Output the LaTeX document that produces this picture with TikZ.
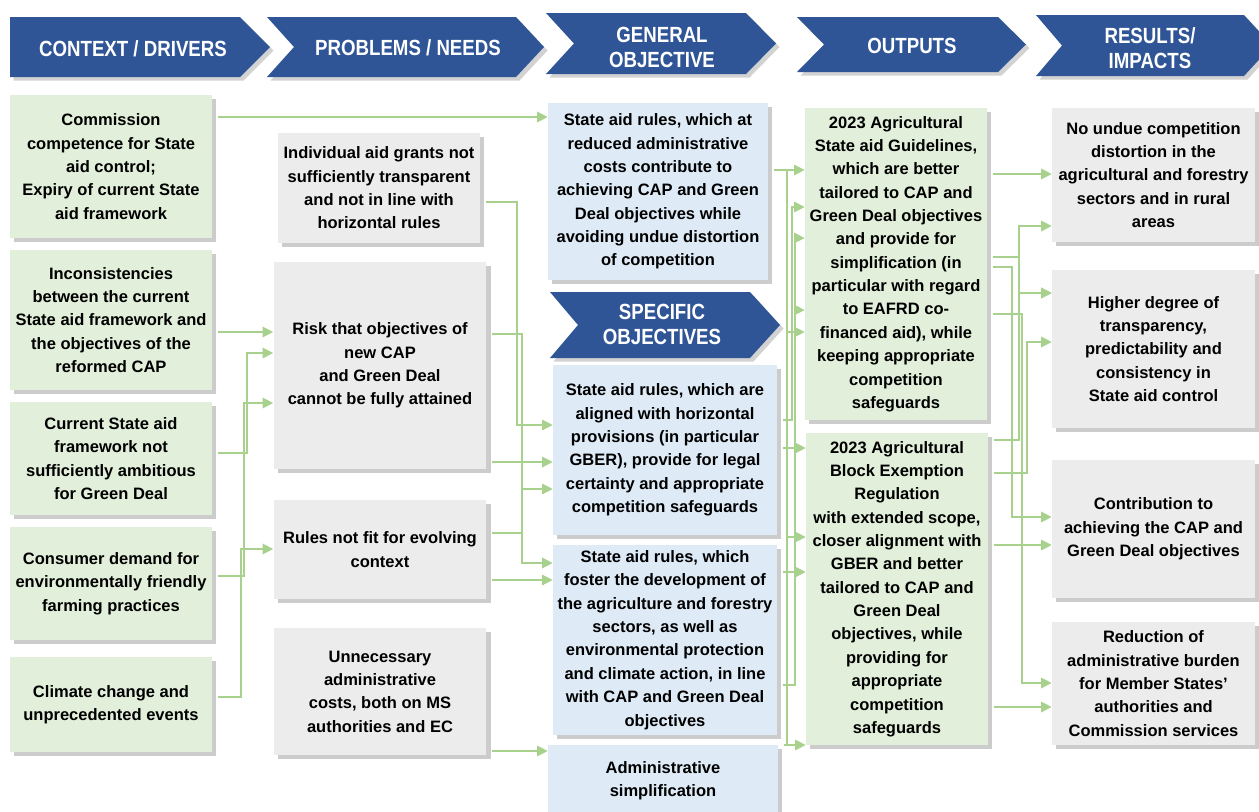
\documentclass[tikz,border=0pt]{standalone}
\usepackage{fontspec}
\setmainfont{Liberation Sans}
\newfontfamily\hdrfont{Liberation Sans}[FakeStretch=0.85]
\usetikzlibrary{shadows, arrows.meta}

\definecolor{hdrblue}{RGB}{47,85,151}
\definecolor{ctxgreen}{RGB}{226,239,218}
\definecolor{probgrey}{RGB}{236,236,236}
\definecolor{objblue}{RGB}{222,235,247}
\definecolor{linkgreen}{RGB}{169,209,142}

\begin{document}
\begin{tikzpicture}[x=0.02cm, y=-0.02cm,
  hdr/.style={fill=hdrblue, drop shadow={shadow xshift=2pt, shadow yshift=-2pt, opacity=0.35}},
  hdrtxt/.style={text=white, align=center, inner sep=0pt, font=\hdrfont\bfseries\fontsize{12.5}{14.2}\selectfont},
  box/.style={align=center, inner sep=2pt, font=\bfseries\fontsize{9.4}{13.3}\selectfont,
    drop shadow={shadow xshift=2.5pt, shadow yshift=-2.5pt, opacity=0.4}},
  ctx/.style={box, fill=ctxgreen, minimum width=4.04cm},
  prob/.style={box, fill=probgrey, minimum width=4.26cm},
  obj/.style={box, fill=objblue, minimum width=4.48cm},
  outp/.style={box, fill=ctxgreen, minimum width=3.64cm},
  res/.style={box, fill=probgrey, minimum width=4.06cm},
  link/.style={draw=linkgreen, line width=0.8pt, shorten <=3pt, -{Triangle[length=6pt,width=6pt]}}]
\fill[white] (0,0) rectangle (1259,812);
\useasboundingbox (0,0) rectangle (1259,812);

% header chevrons
\fill[hdr] (10,17) -- (240,17) -- (270,47) -- (240,77) -- (10,77) -- cycle;
\fill[hdr] (267,17) -- (516,17) -- (544,47) -- (516,77) -- (267,77) -- (294,47) -- cycle;
\fill[hdr] (546,13) -- (746,13) -- (776,43.5) -- (746,74) -- (546,74) -- (574,43.5) -- cycle;
\fill[hdr] (797,17) -- (998,17) -- (1026,44.5) -- (998,72) -- (797,72) -- (824,44.5) -- cycle;
\fill[hdr] (1036,15) -- (1244,15) -- (1272,45.5) -- (1244,76) -- (1036,76) -- (1062,45.5) -- cycle;
\fill[hdr] (550,292) -- (750,292) -- (780,325) -- (750,358) -- (550,358) -- (578,325) -- cycle;
\node[hdrtxt] (hctx) at (133,49) {CONTEXT / DRIVERS};
\node[hdrtxt] (hprob) at (408,48) {PROBLEMS / NEEDS};
\node[hdrtxt] (hgen) at (662,47.5) {GENERAL\\OBJECTIVE};
\node[hdrtxt] (hout) at (912,46) {OUTPUTS};
\node[hdrtxt] (hres) at (1150,48) {RESULTS/\\IMPACTS};
\node[hdrtxt] (hspec) at (662,324) {SPECIFIC\\OBJECTIVES};

% context / drivers
\node[ctx, minimum height=2.86cm] (C1) at (111,166.5) {Commission\\competence for State\\aid control;\\Expiry of current State\\aid framework};
\node[ctx, minimum height=2.8cm] (C2) at (111,320) {Inconsistencies\\between the current\\State aid framework and\\the objectives of the\\reformed CAP};
\node[ctx, minimum height=2.26cm] (C3) at (111,458.5) {Current State aid\\framework not\\sufficiently ambitious\\for Green Deal};
\node[ctx, minimum height=2.26cm] (C4) at (111,583.5) {Consumer demand for\\environmentally friendly\\farming practices};
\node[ctx, minimum height=1.9cm] (C5) at (111,704.5) {Climate change and\\unprecedented events};

% problems / needs
\node[prob, minimum width=4.04cm, minimum height=2.2cm] (P1) at (379,188) {Individual aid grants not\\sufficiently transparent\\and not in line with\\horizontal rules};
\node[prob, minimum height=4.14cm] (P2) at (380,365.5) {Risk that objectives of\\new CAP\\and Green Deal\\cannot be fully attained};
\node[prob, minimum height=1.98cm] (P3) at (380,549.5) {Rules not fit for evolving\\context};
\node[prob, minimum height=2.54cm] (P4) at (380,691.5) {Unnecessary\\administrative\\costs, both on MS\\authorities and EC};

% general and specific objectives
\node[obj, minimum width=4.4cm, minimum height=3.54cm] (G1) at (658,191.5) {State aid rules, which at\\reduced administrative\\costs contribute to\\achieving CAP and Green\\Deal objectives while\\avoiding undue distortion\\of competition};
\node[obj, minimum height=3.4cm] (S1) at (665,450) {State aid rules, which are\\aligned with horizontal\\provisions (in particular\\GBER), provide for legal\\certainty and appropriate\\competition safeguards};
\node[obj, minimum height=3.8cm] (S2) at (665,640) {State aid rules, which\\foster the development of\\the agriculture and forestry\\sectors, as well as\\environmental protection\\and climate action, in line\\with CAP and Green Deal\\objectives};
\node[obj, minimum width=4.6cm, minimum height=1.42cm] (S3) at (663,780.5) {Administrative\\simplification};

% outputs
\node[outp, minimum height=6.24cm] (O1) at (896,264) {2023 Agricultural\\State aid Guidelines,\\which are better\\tailored to CAP and\\Green Deal objectives\\and provide for\\simplification (in\\particular with regard\\to EAFRD co-\\financed aid), while\\keeping appropriate\\competition\\safeguards};
\node[outp, minimum height=6.24cm] (O2) at (897,589) {2023 Agricultural\\Block Exemption\\Regulation\\with extended scope,\\closer alignment with\\GBER and better\\tailored to CAP and\\Green Deal\\objectives, while\\providing for\\appropriate\\competition\\safeguards};

% results / impacts
\node[res, minimum height=2.68cm] (R1) at (1153.5,175) {No undue competition\\distortion in the\\agricultural and forestry\\sectors and in rural\\areas};
\node[res, minimum height=3.16cm] (R2) at (1153.5,349) {Higher degree of\\transparency,\\predictability and\\consistency in\\State aid control};
\node[res, minimum height=2.76cm] (R3) at (1153.5,529) {Contribution to\\achieving the CAP and\\Green Deal objectives};
\node[res, minimum height=2.46cm] (R4) at (1153.5,683.5) {Reduction of\\administrative burden\\for Member States'\\authorities and\\Commission services};

% links drivers -> problems
\draw[link] (C1.east |- 0,117) -- (G1.west |- 0,117);
\draw[link] (C2.east |- 0,332) -- (P2.west |- 0,332);
\draw[link] (C3.east |- 0,453) -| (247,353) -- (P2.west |- 0,353);
\draw[link] (C4.east |- 0,576) -| (244,403) -- (P2.west |- 0,403);
\draw[link] (C5.east |- 0,697) -| (241,549) -- (P3.west |- 0,549);

% links problems -> objectives
\draw[link] (P1.east |- 0,202) -| (517,425) -- (S1.west |- 0,425);
\draw[link] (P2.east |- 0,334) -| (522,563) -- (S2.west |- 0,563);
\draw[link] (P2.east |- 0,462) -- (S1.west |- 0,462);
\draw[link] (P3.east |- 0,533) -| (522,489) -- (S1.west |- 0,489);
\draw[link] (P3.east |- 0,580) -- (S2.west |- 0,580);
\draw[link] (P4.east |- 0,751) -- (S3.west |- 0,751);

% links objectives -> outputs
\draw[link] (G1.east |- 0,170) -- (O1.west |- 0,170);
\draw[link] (G1.east |- 0,170) -| (787,537) -- (O2.west |- 0,537);
\draw[link] (S3.east |- 0,745) -| (787,332) -- (O1.west |- 0,332);
\draw[link] (S3.east |- 0,745) -- (O2.west |- 0,745);
\draw[link] (S1.east |- 0,420) -| (792,207) -- (O1.west |- 0,207);
\draw[link] (S1.east |- 0,448) -- (O2.west |- 0,448);
\draw[link] (S2.east |- 0,685) -| (795,238) -- (O1.west |- 0,238);
\draw[link] (S2.east |- 0,685) -| (795,310) -- (O1.west |- 0,310);
\draw[link] (S2.east |- 0,572) -- (O2.west |- 0,572);

% links outputs -> results
\draw[link] (O1.east |- 0,174) -- (R1.west |- 0,174);
\draw[link] (O1.east |- 0,257) -| (1019,226) -- (R1.west |- 0,226);
\draw[link] (O1.east |- 0,257) -| (1019,293) -- (R2.west |- 0,293);
\draw[link] (O2.east |- 0,440) -| (1019,293) -- (R2.west |- 0,293);
\draw[link] (O1.east |- 0,267) -| (1012,517) -- (R3.west |- 0,517);
\draw[link] (O1.east |- 0,314) -| (1022,683) -- (R4.west |- 0,683);
\draw[link] (O2.east |- 0,473) -| (1027,342) -- (R2.west |- 0,342);
\draw[link] (O2.east |- 0,545) -- (R3.west |- 0,545);
\draw[link] (O2.east |- 0,707) -- (R4.west |- 0,707);
\end{tikzpicture}
\end{document}
